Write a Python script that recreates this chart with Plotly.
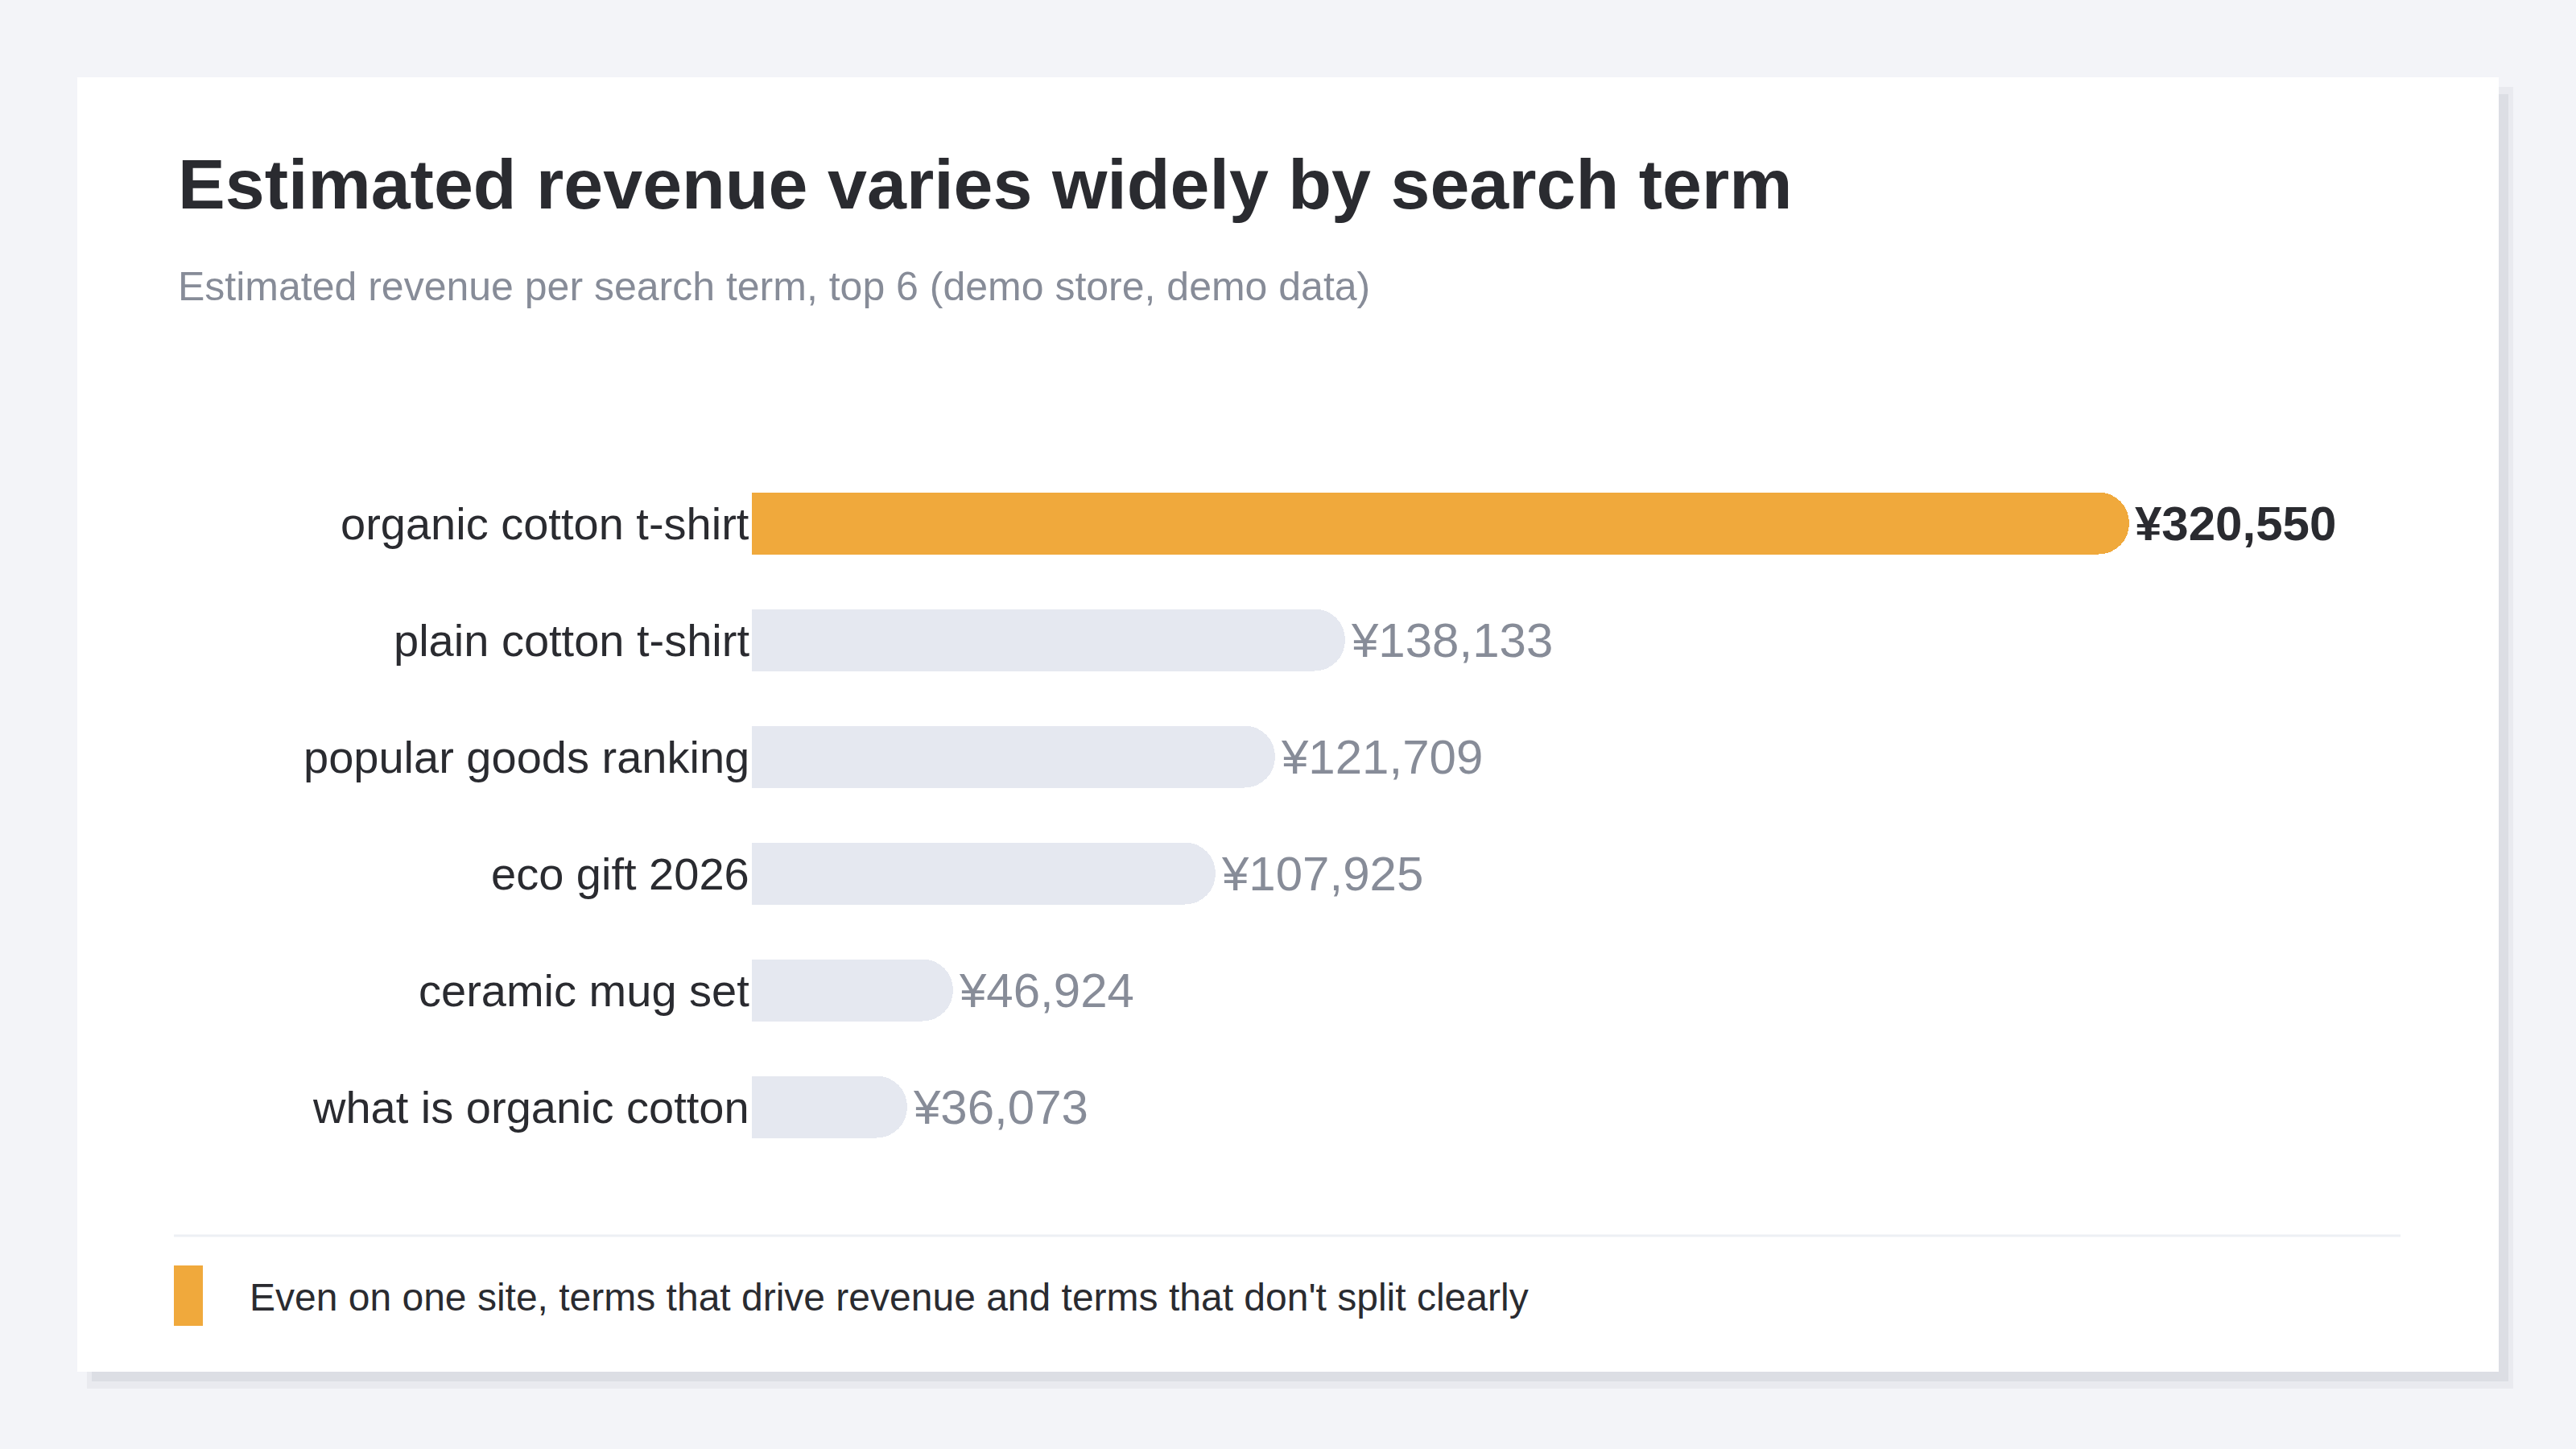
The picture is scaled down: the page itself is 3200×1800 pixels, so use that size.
import plotly.graph_objects as go

# ---- data ----
terms = ["organic cotton t-shirt", "plain cotton t-shirt", "popular goods ranking",
         "eco gift 2026", "ceramic mug set", "what is organic cotton"]
revenue = [320550, 138133, 121709, 107925, 46924, 36073]
value_labels = ["¥320,550", "¥138,133", "¥121,709", "¥107,925", "¥46,924", "¥36,073"]
highlight = [True, False, False, False, False, False]

title = "Estimated revenue varies widely by search term"
subtitle = "Estimated revenue per search term, top 6 (demo store, demo data)"
footer = "Even on one site, terms that drive revenue and terms that don't split clearly"

# ---- style ----
W, H = 3200, 1800
BG = "#f3f4f8"
ORANGE = "#f0a93c"
GREY_BAR = "#e5e8f0"
DARK = "#2a2b30"
MUTED = "#878c98"
FONT = "Liberation Sans, Arial, Helvetica, sans-serif"


def px(x):
    return x / W


def py(y):
    return 1 - y / H


# plot area geometry (pixels)
bar_x0 = 934
bar_full = 1711          # length in px of the largest bar
plot_x1 = 2982
row_top, row_bot = 577.5, 1447.5
x_range_max = max(revenue) * (plot_x1 - bar_x0) / bar_full

colors = [ORANGE if h else GREY_BAR for h in highlight]

fig = go.Figure()
fig.add_trace(go.Bar(
    x=revenue, y=terms, orientation="h",
    marker=dict(color=colors, cornerradius="50%", line=dict(width=0)),
    width=0.531, hoverinfo="skip", showlegend=False,
))

shapes = [
    # card shadow
    dict(type="rect", xref="paper", yref="paper", x0=px(108), x1=px(3122), y0=py(1725), y1=py(108),
         fillcolor="#e9eaef", line=dict(width=0), layer="below"),
    dict(type="rect", xref="paper", yref="paper", x0=px(114), x1=px(3116), y0=py(1716), y1=py(117),
         fillcolor="#dcdee4", line=dict(width=0), layer="below"),
    # card
    dict(type="rect", xref="paper", yref="paper", x0=px(96), x1=px(3104), y0=py(1704), y1=py(96),
         fillcolor="#ffffff", line=dict(width=0), layer="below"),
    # separator
    dict(type="line", xref="paper", yref="paper", x0=px(216), x1=px(2982), y0=py(1535), y1=py(1535),
         line=dict(color="#edf0f4", width=3), layer="below"),
    # footer accent
    dict(type="rect", xref="paper", yref="paper", x0=px(216), x1=px(252), y0=py(1647), y1=py(1572),
         fillcolor=ORANGE, line=dict(width=0)),
]

annotations = [
    dict(text=f"<b>{title}</b>", xref="paper", yref="paper", x=px(219), y=py(228),
         xanchor="left", yanchor="middle", showarrow=False,
         font=dict(family=FONT, size=88, color=DARK)),
    dict(text=subtitle, xref="paper", yref="paper", x=px(219), y=py(356),
         xanchor="left", yanchor="middle", showarrow=False,
         font=dict(family=FONT, size=50, color=MUTED)),
    dict(text=footer, xref="paper", yref="paper", x=px(308), y=py(1611),
         xanchor="left", yanchor="middle", showarrow=False,
         font=dict(family=FONT, size=48, color=DARK)),
]

for term, val, lab, hl in zip(terms, revenue, value_labels, highlight):
    annotations.append(dict(
        text=term, x=0, y=term, xref="x", yref="y", xanchor="right", yanchor="middle",
        xshift=-1, showarrow=False, font=dict(family=FONT, size=56, color=DARK)))
    annotations.append(dict(
        text=f"<b>{lab}</b>" if hl else lab, x=val, y=term, xref="x", yref="y",
        xanchor="left", yanchor="middle", xshift=5, showarrow=False,
        font=dict(family=FONT, size=60, color=DARK if hl else MUTED)))

fig.update_layout(
    width=W, height=H,
    margin=dict(l=0, r=0, t=0, b=0, pad=0),
    paper_bgcolor=BG, plot_bgcolor="rgba(0,0,0,0)",
    font=dict(family=FONT),
    shapes=shapes, annotations=annotations,
    xaxis=dict(domain=[px(bar_x0), px(plot_x1)], range=[0, x_range_max],
               showgrid=False, zeroline=False, showticklabels=False, showline=False,
               fixedrange=True),
    yaxis=dict(domain=[py(row_bot), py(row_top)], autorange="reversed",
               categoryorder="array", categoryarray=terms,
               showgrid=False, zeroline=False, showticklabels=False, showline=False,
               fixedrange=True),
    bargap=0,
)

fig.write_html("out.html", config={"displayModeBar": False})
